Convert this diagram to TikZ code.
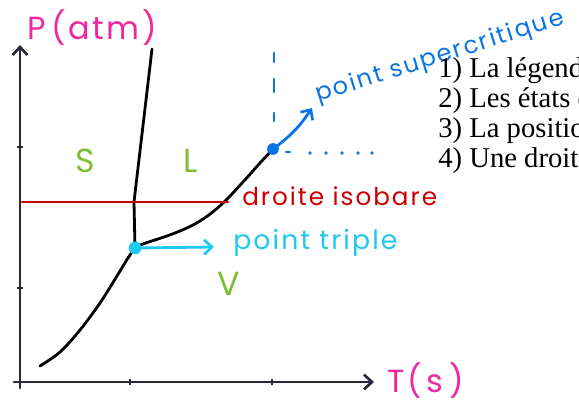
\documentclass[tikz,border=0pt]{standalone}
\usepackage{fontspec}
\setmainfont{Liberation Serif}
\newfontfamily\hand[LetterSpace=8]{Poppins}
\usetikzlibrary{arrows.meta}
\definecolor{pinkaxis}{RGB}{240,40,160}
\definecolor{scblue}{RGB}{10,115,230}
\definecolor{tpcyan}{RGB}{30,200,240}
\definecolor{isored}{RGB}{205,0,0}
\definecolor{phasegreen}{RGB}{125,190,50}
\definecolor{axisgray}{RGB}{40,40,60}
\tikzset{
  curve/.style={line width=2.1pt, line cap=round, line join=round},
  handtext/.style={font=\hand\fontsize{18}{20}\selectfont, inner sep=0pt},
  phase/.style={font=\hand\fontsize{25}{27}\selectfont, text=phasegreen, inner sep=0pt},
  printed/.style={font=\fontsize{21.5}{24}\selectfont, anchor=west, inner sep=0pt},
  barb/.style={-{Straight Barb[length=6pt, width=11pt, line width=2pt]}}
}
\begin{document}
\begin{tikzpicture}[x=0.75pt, y=-0.75pt]
    \useasboundingbox (0,0) rectangle (579,403);
    % axes
    \coordinate (O) at (20,382);
    \coordinate (ytop) at (20,45);
    \coordinate (xend) at (374,382);
    \draw[curve, color=axisgray, barb] (20,388) -- (ytop);
    \draw[curve, color=axisgray, barb] (14,382) -- (xend);
    \foreach \tx in {130,272} \draw[line width=1pt, color=axisgray] (\tx,379) -- (\tx,385);
    \foreach \ty in {147,288} \draw[line width=1pt, color=axisgray] (17,\ty) -- (23,\ty);
    \node[font=\hand\fontsize{24}{26}\selectfont, text=pinkaxis, anchor=west, inner sep=0pt] (plabel) at (27,28) {P\,(atm)};
    \node[font=\hand\fontsize{24}{26}\selectfont, text=pinkaxis, anchor=west, inner sep=0pt] (tlabel) at (387,381) {T(\,s\,)};
    % special points
    \coordinate (tp) at (135,248);
    \coordinate (sc) at (273,149);
    % fusion curve
    \draw[curve] (tp) -- (134,202) -- (152,49);
    % sublimation curve
    \draw[curve] plot[smooth, tension=0.6] coordinates {(40,366) (60,352) (80,330) (100,303) (117,276) (128,258) (tp)};
    % vaporisation curve
    \draw[curve] plot[smooth, tension=0.6] coordinates {(tp) (143,244) (175,233) (200,221) (222,204) (243,182) (260,163) (sc)};
    % isobar
    \draw[curve, color=isored] (22,202) -- (228,202);
    \node[handtext, text=isored, anchor=west, font=\hand\fontsize{18.5}{20}\selectfont] (iso) at (242,196) {droite isobare};
    % phases
    \node[phase] (S) at (85,161) {S};
    \node[phase] (L) at (191,161) {L};
    \node[phase] (V) at (229,284) {V};
    % triple point
    \fill[color=tpcyan] (tp) circle (4.8pt);
    \node[handtext, text=tpcyan, anchor=west, font=\hand\fontsize{20}{22}\selectfont] (tptext) at (233,243) {point triple};
    \coordinate (tparrow) at (214,247);
    \draw[curve, color=tpcyan, barb] (tp) -- (tparrow);
    % supercritical point
    \foreach \ya/\yb in {53/62, 79/92, 113/121} \draw[curve, color=scblue] (274,\ya) -- (274,\yb);
    \draw[curve, color=scblue] (286,152) -- (290,152);
    \foreach \dx in {310,326,342,358,372} \fill[color=scblue] (\dx,153) circle (1.4pt);
    \fill[color=scblue] (sc) circle (4.4pt);
    \coordinate (scarrow) at (312,108);
    \draw[curve, color=scblue, barb] (sc) to[bend right=10] (scarrow);
    \node[handtext, text=scblue, rotate=17.5, anchor=south west] (sctext) at (320,108) {point supercritique};
    % printed questions
    \begin{scope}
      \clip (0,0) rectangle (579,403);
      \node[printed] (q1) at (438,71) {1) La légende};
      \node[printed] (q2) at (438,101) {2) Les états de};
      \node[printed] (q3) at (438,131) {3) La position};
      \node[printed] (q4) at (438,161) {4) Une droite};
    \end{scope}
\end{tikzpicture}
\end{document}
